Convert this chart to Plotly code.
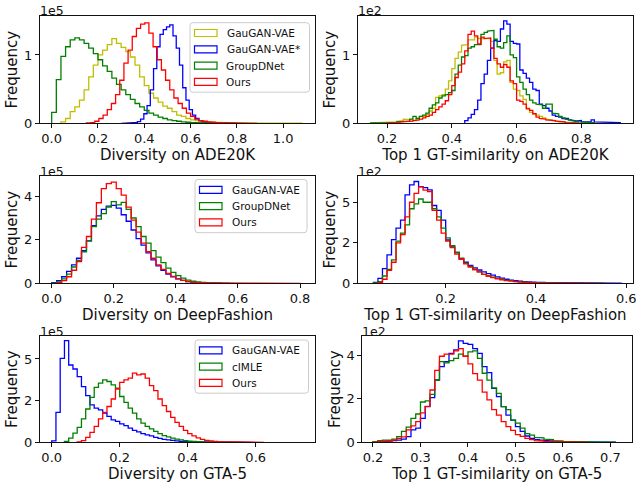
import plotly.graph_objects as go

# ---------------- data (histogram counts, display units) ----------------
# Panel 1: Diversity on ADE20K (x1e5)
ade_div_names = ["GauGAN-VAE", "GauGAN-VAE*", "GroupDNet", "Ours"]
ade_div_start = [0.04, 0.30, 0.0, 0.15]
ade_div_width = [0.02, 0.014, 0.02, 0.018]
ade_div_gauganvae = [0.02, 0.07, 0.17, 0.24, 0.34, 0.49, 0.68, 0.85, 1.0, 1.07, 1.15, 1.24, 1.17, 1.11, 1.05,
                     0.97, 0.85, 0.68, 0.55, 0.44, 0.37, 0.31, 0.25, 0.22, 0.17, 0.12, 0.10, 0.07, 0.05, 0.04,
                     0.03, 0.02, 0.015, 0.012, 0.01, 0.008, 0.006, 0.005, 0.004, 0.003, 0.003, 0.002, 0.002,
                     0.002, 0.002, 0.001, 0.001, 0.001, 0.001, 0.001, 0.001, 0.001]
ade_div_gauganvae_star = [0.002, 0.003, 0.005, 0.008, 0.012, 0.025, 0.06, 0.14, 0.26, 0.49, 0.8, 1.12, 1.3, 1.37,
                          1.41, 1.44, 1.28, 1.1, 0.85, 0.52, 0.34, 0.2, 0.12, 0.07, 0.04, 0.02, 0.01, 0.005]
ade_div_groupdnet = [0.16, 0.64, 0.98, 1.12, 1.22, 1.25, 1.22, 1.17, 1.10, 1.02, 0.93, 0.84, 0.76, 0.66, 0.57,
                     0.49, 0.42, 0.35, 0.29, 0.24, 0.19, 0.15, 0.12, 0.09, 0.07, 0.05, 0.04, 0.03, 0.02, 0.015,
                     0.01, 0.008, 0.006, 0.005, 0.004, 0.003, 0.002, 0.002, 0.001, 0.001]
ade_div_ours = [0.005, 0.01, 0.03, 0.07, 0.12, 0.2, 0.29, 0.42, 0.63, 0.88, 1.07, 1.27, 1.39, 1.45, 1.47, 1.32,
                1.12, 0.93, 0.78, 0.63, 0.49, 0.37, 0.29, 0.22, 0.15, 0.10, 0.06, 0.04, 0.03, 0.02, 0.015, 0.01,
                0.008, 0.006, 0.005, 0.004, 0.003, 0.002, 0.002, 0.001, 0.001]

# Panel 2: Top 1 GT-similarity on ADE20K (x1e2)
ade_sim_start = [0.15, 0.44, 0.15, 0.20]
ade_sim_width = [0.01, 0.01, 0.01, 0.01]
ade_sim_gauganvae = [0.005, 0.01, 0.01, 0.01, 0.01, 0.01, 0.01, 0.02, 0.03, 0.04, 0.06, 0.06, 0.05, 0.04, 0.07,
                     0.10, 0.10, 0.13, 0.18, 0.22, 0.38, 0.40, 0.42, 0.50, 0.62, 0.80, 0.95, 1.04, 1.14, 1.15,
                     1.22, 1.22, 1.26, 1.24, 1.25, 1.25, 1.24, 1.20, 0.92, 0.72, 0.74, 0.90, 0.92, 0.60, 0.50,
                     0.48, 0.40, 0.35, 0.22, 0.16, 0.14, 0.12, 0.10, 0.08, 0.06, 0.05, 0.04, 0.03, 0.02, 0.02,
                     0.01, 0.01, 0.01]
ade_sim_gauganvae_star = [0.04, 0.08, 0.13, 0.20, 0.34, 0.58, 0.72, 0.92, 1.10, 1.21, 1.20, 1.38, 1.50, 1.45,
                          1.20, 1.17, 1.16, 0.78, 0.73, 0.66, 0.60, 0.50, 0.48, 0.28, 0.26, 0.22, 0.18, 0.12,
                          0.10, 0.09, 0.07, 0.07, 0.05, 0.04, 0.03, 0.04, 0.02, 0.03, 0.02, 0.05, 0.02, 0.01,
                          0.02, 0.01, 0.01, 0.01, 0.01, 0.01]
ade_sim_groupdnet = [0.005, 0.005, 0.005, 0.01, 0.01, 0.01, 0.01, 0.01, 0.02, 0.02, 0.02, 0.03, 0.06, 0.10,
                     0.07, 0.10, 0.12, 0.15, 0.22, 0.27, 0.30, 0.37, 0.40, 0.42, 0.45, 0.48, 0.72, 0.85, 0.97,
                     0.99, 1.10, 1.12, 1.15, 1.15, 1.30, 1.33, 1.35, 1.36, 1.23, 1.12, 1.10, 1.18, 1.28, 1.00,
                     0.96, 0.68, 0.60, 0.50, 0.42, 0.34, 0.30, 0.28, 0.27, 0.22, 0.28, 0.28, 0.15, 0.14, 0.10,
                     0.08, 0.06, 0.05, 0.04, 0.03, 0.02, 0.02, 0.01, 0.01, 0.01]
ade_sim_ours = [0.005, 0.005, 0.01, 0.01, 0.02, 0.02, 0.03, 0.03, 0.04, 0.05, 0.06, 0.08, 0.10, 0.12, 0.16,
                0.20, 0.24, 0.28, 0.33, 0.42, 0.55, 0.67, 0.75, 0.87, 1.06, 1.30, 1.35, 1.28, 1.16, 1.26, 1.24,
                1.25, 1.10, 0.95, 0.87, 0.82, 0.86, 0.82, 0.62, 0.58, 0.34, 0.32, 0.28, 0.21, 0.19, 0.14, 0.09,
                0.07, 0.06, 0.05, 0.04, 0.04, 0.03, 0.02, 0.02, 0.01, 0.01, 0.01, 0.005]

# Panel 3: Diversity on DeepFashion (x1e5)
df_div_names = ["GauGAN-VAE", "GroupDNet", "Ours"]
df_div_start = [0.0, 0.0, 0.016]
df_div_width = [0.016, 0.016, 0.016]
df_div_gauganvae = [0.03, 0.12, 0.3, 0.55, 0.85, 1.15, 1.5, 1.95, 2.65, 3.1, 3.4, 3.55, 3.58, 3.45, 3.15, 2.85,
                    2.45, 2.05, 1.75, 1.4, 1.08, 0.8, 0.6, 0.42, 0.3, 0.2, 0.13, 0.08, 0.05, 0.03, 0.02, 0.01,
                    0.01, 0.005]
df_div_groupdnet = [0.01, 0.07, 0.2, 0.42, 0.75, 1.05, 1.45, 1.95, 2.6, 2.95, 3.2, 3.5, 3.75, 3.6, 3.72, 3.4,
                    3.0, 2.6, 2.15, 1.85, 1.5, 1.2, 0.95, 0.7, 0.5, 0.35, 0.24, 0.15, 0.1, 0.06, 0.04, 0.03,
                    0.02, 0.01, 0.008, 0.005]
df_div_ours = [0.03, 0.12, 0.3, 0.6, 1.0, 1.65, 2.15, 2.95, 3.7, 4.35, 4.58, 4.65, 4.35, 4.05, 3.5, 2.9, 2.35,
               1.85, 1.45, 1.15, 0.85, 0.64, 0.46, 0.32, 0.2, 0.13, 0.08, 0.05, 0.035, 0.025, 0.015, 0.01,
               0.008, 0.006, 0.005, 0.004, 0.003, 0.003, 0.002, 0.002, 0.002, 0.001, 0.001, 0.001, 0.001,
               0.001, 0.001, 0.001, 0.001]

# Panel 4: Top 1 GT-similarity on DeepFashion (x1e2)
df_sim_start = [0.04, 0.04, 0.05]
df_sim_width = [0.01, 0.01, 0.01]
df_sim_gauganvae = [0.05, 0.3, 0.9, 1.75, 2.7, 3.4, 3.9, 5.45, 6.07, 6.28, 5.97, 5.9, 5.76, 4.8, 4.5, 3.9, 2.67,
                    2.3, 1.9, 1.5, 1.3, 1.1, 0.95, 0.82, 0.7, 0.6, 0.5, 0.4, 0.32, 0.25, 0.2, 0.16, 0.13, 0.1,
                    0.08, 0.07, 0.06, 0.05, 0.04, 0.035, 0.03, 0.025, 0.02, 0.02, 0.015, 0.015, 0.01, 0.01,
                    0.01, 0.008, 0.008, 0.006, 0.005, 0.005, 0.004]
df_sim_groupdnet = [0.02, 0.1, 0.45, 0.85, 1.45, 2.6, 3.1, 3.6, 4.6, 4.9, 5.2, 5.0, 5.0, 4.6, 4.1, 3.4, 2.8, 2.3,
                    1.9, 1.55, 1.25, 1.05, 0.85, 0.7, 0.55, 0.45, 0.38, 0.3, 0.25, 0.2, 0.16, 0.12, 0.1, 0.08,
                    0.06, 0.05, 0.04, 0.03, 0.025, 0.02, 0.015, 0.012, 0.01, 0.008, 0.006, 0.005, 0.004, 0.003,
                    0.002, 0.002, 0.001]
df_sim_ours = [0.05, 0.25, 0.8, 1.3, 2.5, 3.0, 4.1, 5.0, 5.55, 5.95, 5.75, 5.65, 4.5, 3.9, 3.1, 2.6, 2.2, 1.8,
               1.5, 1.2, 1.0, 0.85, 0.7, 0.55, 0.45, 0.35, 0.28, 0.22, 0.17, 0.13, 0.1, 0.08, 0.06, 0.05, 0.04,
               0.03, 0.025, 0.02, 0.015, 0.012, 0.01, 0.008, 0.006, 0.005, 0.004, 0.003, 0.003, 0.002, 0.002,
               0.001]

# Panel 5: Diversity on GTA-5 (x1e5)
gta_div_names = ["GauGAN-VAE", "cIMLE", "Ours"]
gta_div_start = [0.0, 0.0375, 0.075]
gta_div_width = [0.0125, 0.0125, 0.0125]
gta_div_gauganvae = [0.08, 1.8, 5.04, 6.1, 4.64, 4.4, 3.94, 3.34, 2.8, 2.25, 2.05, 1.95, 1.75, 1.55, 1.35, 1.25,
                     1.1, 1.0, 0.85, 0.72, 0.62, 0.52, 0.45, 0.38, 0.3, 0.24, 0.18, 0.14, 0.11, 0.08, 0.06,
                     0.05, 0.04, 0.03, 0.02, 0.015, 0.01, 0.008, 0.006, 0.005, 0.004, 0.003, 0.003, 0.002,
                     0.002, 0.002, 0.001]
gta_div_cimle = [0.06, 0.25, 0.55, 0.9, 1.4, 2.0, 2.7, 3.3, 3.55, 3.75, 3.65, 3.45, 3.25, 2.75, 2.4, 2.05, 1.75,
                 1.4, 1.15, 0.95, 0.8, 0.65, 0.52, 0.4, 0.32, 0.25, 0.19, 0.14, 0.1, 0.07, 0.05, 0.035, 0.025,
                 0.015, 0.01, 0.008, 0.005, 0.004, 0.003, 0.002, 0.002, 0.001]
gta_div_ours = [0.02, 0.1, 0.3, 0.6, 0.95, 1.4, 1.8, 2.15, 2.6, 3.2, 3.6, 3.75, 3.85, 4.15, 4.05, 4.1, 3.85, 3.4,
                3.1, 2.6, 2.2, 1.85, 1.5, 1.2, 0.95, 0.72, 0.52, 0.38, 0.27, 0.18, 0.12, 0.08, 0.05, 0.03,
                0.02, 0.015, 0.01, 0.008, 0.005, 0.004, 0.003, 0.002, 0.002, 0.001]

# Panel 6: Top 1 GT-similarity on GTA-5 (x1e2)
gta_sim_start = [0.20, 0.20, 0.20]
gta_sim_width = [0.01, 0.01, 0.01]
gta_sim_gauganvae = [0.01, 0.02, 0.04, 0.06, 0.08, 0.1, 0.15, 0.26, 0.57, 0.65, 1.1, 1.64, 2.05, 2.86, 3.47, 3.7,
                     4.08, 4.24, 4.66, 4.54, 4.5, 4.3, 4.08, 3.47, 3.2, 2.48, 2.1, 1.64, 1.25, 1.02, 0.72, 0.5,
                     0.29, 0.18, 0.12, 0.1, 0.08, 0.06, 0.04, 0.03, 0.02, 0.02, 0.01, 0.01, 0.01, 0.01, 0.008,
                     0.006, 0.005, 0.004, 0.003]
gta_sim_cimle = [0.02, 0.08, 0.1, 0.1, 0.15, 0.26, 0.5, 0.7, 1.1, 1.3, 1.85, 1.9, 2.2, 2.86, 3.7, 3.65, 3.75,
                 3.85, 4.05, 3.95, 4.15, 4.2, 3.85, 3.17, 2.85, 2.5, 2.25, 1.64, 1.5, 1.02, 0.88, 0.65, 0.4,
                 0.33, 0.23, 0.2, 0.14, 0.12, 0.08, 0.06, 0.04, 0.03, 0.02, 0.015, 0.01, 0.01, 0.008, 0.006,
                 0.005, 0.004, 0.003]
gta_sim_ours = [0.01, 0.03, 0.05, 0.06, 0.1, 0.18, 0.25, 0.57, 0.75, 0.95, 1.35, 1.65, 2.4, 3.3, 3.95, 4.05,
                4.05, 4.2, 4.3, 3.95, 3.6, 3.15, 2.85, 2.3, 1.95, 1.5, 1.25, 0.95, 0.72, 0.55, 0.35, 0.27, 0.18,
                0.12, 0.08, 0.06, 0.04, 0.03, 0.02, 0.015, 0.01, 0.008, 0.006, 0.005, 0.004]

x_titles = ["Diversity on ADE20K", "Top 1 GT-similarity on ADE20K",
            "Diversity on DeepFashion", "Top 1 GT-similarity on DeepFashion",
            "Diversity on GTA-5", "Top 1 GT-similarity on GTA-5"]
scale_labels = ["1e5", "1e2", "1e5", "1e2", "1e5", "1e2"]

# ---------------- styling / layout ----------------
W, H = 638, 486
YEL, BLU, GRN, RED = "#bfbf00", "#0000ff", "#008000", "#ff0000"
FONT = "DejaVu Sans"

panels = [
    dict(box=(40, 315, 16, 123.3), xr=(-0.0505, 1.1374), yr=(0, 1.57),
         xt=[0.0, 0.2, 0.4, 0.6, 0.8, 1.0], yt=[0, 1], ytt=["0", "1"],
         series=[(ade_div_gauganvae, YEL), (ade_div_gauganvae_star, BLU), (ade_div_groupdnet, GRN), (ade_div_ours, RED)],
         start=ade_div_start, width=ade_div_width),
    dict(box=(358, 633, 16, 123.3), xr=(0.1105, 0.9593), yr=(0, 1.57),
         xt=[0.2, 0.4, 0.6, 0.8], yt=[0, 1], ytt=["0", "1"],
         series=[(ade_sim_gauganvae, YEL), (ade_sim_gauganvae_star, BLU), (ade_sim_groupdnet, GRN), (ade_sim_ours, RED)],
         start=ade_sim_start, width=ade_sim_width),
    dict(box=(40, 315, 176, 283.3), xr=(-0.0377, 0.8483), yr=(0, 4.93),
         xt=[0.0, 0.2, 0.4, 0.6, 0.8], yt=[0, 2, 4], ytt=["0", "2", "4"],
         series=[(df_div_gauganvae, BLU), (df_div_groupdnet, GRN), (df_div_ours, RED)],
         start=df_div_start, width=df_div_width),
    dict(box=(358, 633, 176, 283.3), xr=(0.0058, 0.6149), yr=(0, 6.62),
         xt=[0.2, 0.4, 0.6], yt=[0, 2.5, 5], ytt=["0", "2", "5"],
         series=[(df_sim_gauganvae, BLU), (df_sim_groupdnet, GRN), (df_sim_ours, RED)],
         start=df_sim_start, width=df_sim_width),
    dict(box=(40, 315, 336, 442.3), xr=(-0.0344, 0.7744), yr=(0, 6.38),
         xt=[0.0, 0.2, 0.4, 0.6], yt=[0, 2.5, 5], ytt=["0", "2", "5"],
         series=[(gta_div_gauganvae, BLU), (gta_div_cimle, GRN), (gta_div_ours, RED)],
         start=gta_div_start, width=gta_div_width),
    dict(box=(362.3, 632.3, 336, 442.3), xr=(0.1775, 0.746), yr=(0, 4.88),
         xt=[0.2, 0.3, 0.4, 0.5, 0.6, 0.7], yt=[0, 2, 4], ytt=["0", "2", "4"],
         series=[(gta_sim_gauganvae, BLU), (gta_sim_cimle, GRN), (gta_sim_ours, RED)],
         start=gta_sim_start, width=gta_sim_width),
]


def step_xy(start, width, counts):
    xs, ys = [start], [0.0]
    for i, c in enumerate(counts):
        xs += [start + i * width, start + (i + 1) * width]
        ys += [c, c]
    xs.append(start + len(counts) * width)
    ys.append(0.0)
    return xs, ys


fig = go.Figure()
shapes, annotations = [], []

for k, p in enumerate(panels, start=1):
    x0, x1, y0, y1 = p["box"]
    xa, ya = f"x{k}" if k > 1 else "x", f"y{k}" if k > 1 else "y"
    for (counts, color), s, w in zip(p["series"], p["start"], p["width"]):
        xs, ys = step_xy(s, w, counts)
        fig.add_trace(go.Scatter(x=xs, y=ys, mode="lines", xaxis=xa, yaxis=ya,
                                 line=dict(color=color, width=1.3), showlegend=False,
                                 hoverinfo="skip"))
    axis_common = dict(showline=True, mirror=True, linecolor="#111", linewidth=1,
                       ticks="outside", ticklen=4, tickwidth=1, tickcolor="#111",
                       showgrid=False, zeroline=False, automargin=False,
                       tickfont=dict(family=FONT, size=13, color="#111"))
    fig.update_layout(**{
        f"xaxis{k if k > 1 else ''}": dict(
            domain=[x0 / W, x1 / W], anchor=ya, range=list(p["xr"]),
            tickvals=p["xt"], ticktext=[f"{v:.1f}" for v in p["xt"]],
            ticklabelstandoff=-1,
            title=dict(text=x_titles[k - 1], font=dict(family=FONT, size=15, color="#111"), standoff=0),
            **axis_common),
        f"yaxis{k if k > 1 else ''}": dict(
            domain=[1 - y1 / H, 1 - y0 / H], anchor=xa, range=list(p["yr"]),
            tickvals=p["yt"], ticktext=p["ytt"],
            title=dict(text="Frequency", font=dict(family=FONT, size=15, color="#111"), standoff=2),
            **axis_common),
    })
    annotations.append(dict(text=scale_labels[k - 1], xref="paper", yref="paper",
                            x=x0 / W - 1 / W, y=1 - (y0 - 5) / H, xanchor="left", yanchor="middle",
                            showarrow=False, borderpad=0,
                            font=dict(family=FONT, size=12.5, color="#111")))


def rounded_rect(l, t, r, b, rad=3):
    # pixel coords -> paper path with rounded corners
    px = lambda v: v / W
    py = lambda v: 1 - v / H
    return (f"M {px(l + rad)},{py(t)} L {px(r - rad)},{py(t)} Q {px(r)},{py(t)} {px(r)},{py(t + rad)} "
            f"L {px(r)},{py(b - rad)} Q {px(r)},{py(b)} {px(r - rad)},{py(b)} "
            f"L {px(l + rad)},{py(b)} Q {px(l)},{py(b)} {px(l)},{py(b - rad)} "
            f"L {px(l)},{py(t + rad)} Q {px(l)},{py(t)} {px(l + rad)},{py(t)} Z")


legends = [
    (1, ade_div_names, [YEL, BLU, GRN, RED], (190, 22.7, 309.5)),
    (3, df_div_names, [BLU, GRN, RED], (195, 179.5, 307)),
    (5, gta_div_names, [BLU, GRN, RED], (195, 340, 308.5)),
]
ROW = 16.3
for _, names, colors, (lx, ly, rx) in legends:
    n = len(names)
    by = ly + 10.3 + (n - 1) * ROW + 10.3
    shapes.append(dict(type="path", xref="paper", yref="paper", path=rounded_rect(lx, ly, rx, by),
                       fillcolor="rgba(255,255,255,0.8)", line=dict(color="#cccccc", width=1), layer="above"))
    for i, (nm, c) in enumerate(zip(names, colors)):
        cy = ly + 10.3 + i * ROW
        shapes.append(dict(type="rect", xref="paper", yref="paper",
                           x0=(lx + 4.5) / W, x1=(lx + 27) / W,
                           y0=1 - (cy + 3.5) / H, y1=1 - (cy - 3.5) / H,
                           line=dict(color=c, width=1.2), fillcolor="rgba(0,0,0,0)", layer="above"))
        annotations.append(dict(text=nm, xref="paper", yref="paper", x=(lx + 34.5) / W, y=1 - cy / H,
                                xanchor="left", yanchor="middle", showarrow=False,
                                font=dict(family=FONT, size=10.5, color="#111")))

fig.update_layout(width=W, height=H, margin=dict(l=0, r=0, t=0, b=0),
                  paper_bgcolor="white", plot_bgcolor="white",
                  shapes=shapes, annotations=annotations, showlegend=False,
                  font=dict(family=FONT, color="#111"))

fig.write_html("out.html", config={"displayModeBar": False, "staticPlot": True},
               post_script="document.body.style.margin='0';document.body.style.padding='0';")
